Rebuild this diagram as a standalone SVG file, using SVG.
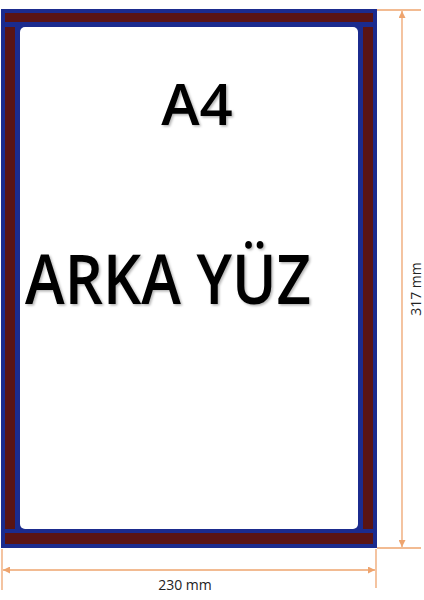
<svg xmlns="http://www.w3.org/2000/svg" width="424" height="600" viewBox="0 0 424 600">
  <style>
    .blue { fill: #1b2b8e; }
    .brown { fill: #5a1414; }
    .dim { stroke: #eea46e; stroke-width: 1.3; fill: none; }
    .lbl { font-family: "Open Sans", "Liberation Sans", sans-serif; font-size: 14px; fill: #222; }
    .big { font-family: "Open Sans", "Liberation Sans", sans-serif; fill: #000; font-weight: 600; }
  </style>
  <defs>
    <marker id="ah" viewBox="0 0 10 10" refX="10" refY="5" markerWidth="9" markerHeight="7" markerUnits="userSpaceOnUse" orient="auto-start-reverse">
      <path d="M0,0 L10,5 L0,10 Z" fill="#eea46e"/>
    </marker>
    <filter id="sh" x="-10%" y="-10%" width="130%" height="130%">
      <feDropShadow dx="1.5" dy="1.5" stdDeviation="1.2" flood-color="#000" flood-opacity="0.3"/>
    </filter>
  </defs>
  <rect width="424" height="600" fill="#fff"/>
  <g id="frame">
    <rect class="blue" x="1" y="9" width="376" height="539"/>
    <rect class="brown" x="5" y="13" width="368" height="9"/>
    <rect class="brown" x="5" y="533" width="368" height="11"/>
    <rect class="brown" x="5" y="27" width="10" height="502"/>
    <rect class="brown" x="363" y="27" width="10" height="502"/>
    <rect x="20" y="27" width="338" height="502" rx="5" fill="#fff"/>
  </g>
  <g id="texts">
    <text class="big" x="197" y="125" font-size="58" text-anchor="middle" filter="url(#sh)">A4</text>
    <text class="big" x="25" y="304" font-size="68" textLength="286" lengthAdjust="spacingAndGlyphs" filter="url(#sh)">ARKA YÜZ</text>
  </g>
  <g id="connectors">
    <line class="dim" x1="377" y1="10" x2="421" y2="10"/>
    <line class="dim" x1="377" y1="548" x2="421" y2="548"/>
    <line class="dim" x1="402" y1="11" x2="402" y2="547" marker-start="url(#ah)" marker-end="url(#ah)"/>
    <line class="dim" x1="2" y1="549" x2="2" y2="590"/>
    <line class="dim" x1="376" y1="549" x2="376" y2="588"/>
    <line class="dim" x1="3" y1="570" x2="375" y2="570" marker-start="url(#ah)" marker-end="url(#ah)"/>
  </g>
  <g id="dim-labels">
    <text class="lbl" x="185" y="590" text-anchor="middle">230 mm</text>
    <text class="lbl" font-size="13" transform="translate(421,289) rotate(-90)" text-anchor="middle">317 mm</text>
  </g>
</svg>
